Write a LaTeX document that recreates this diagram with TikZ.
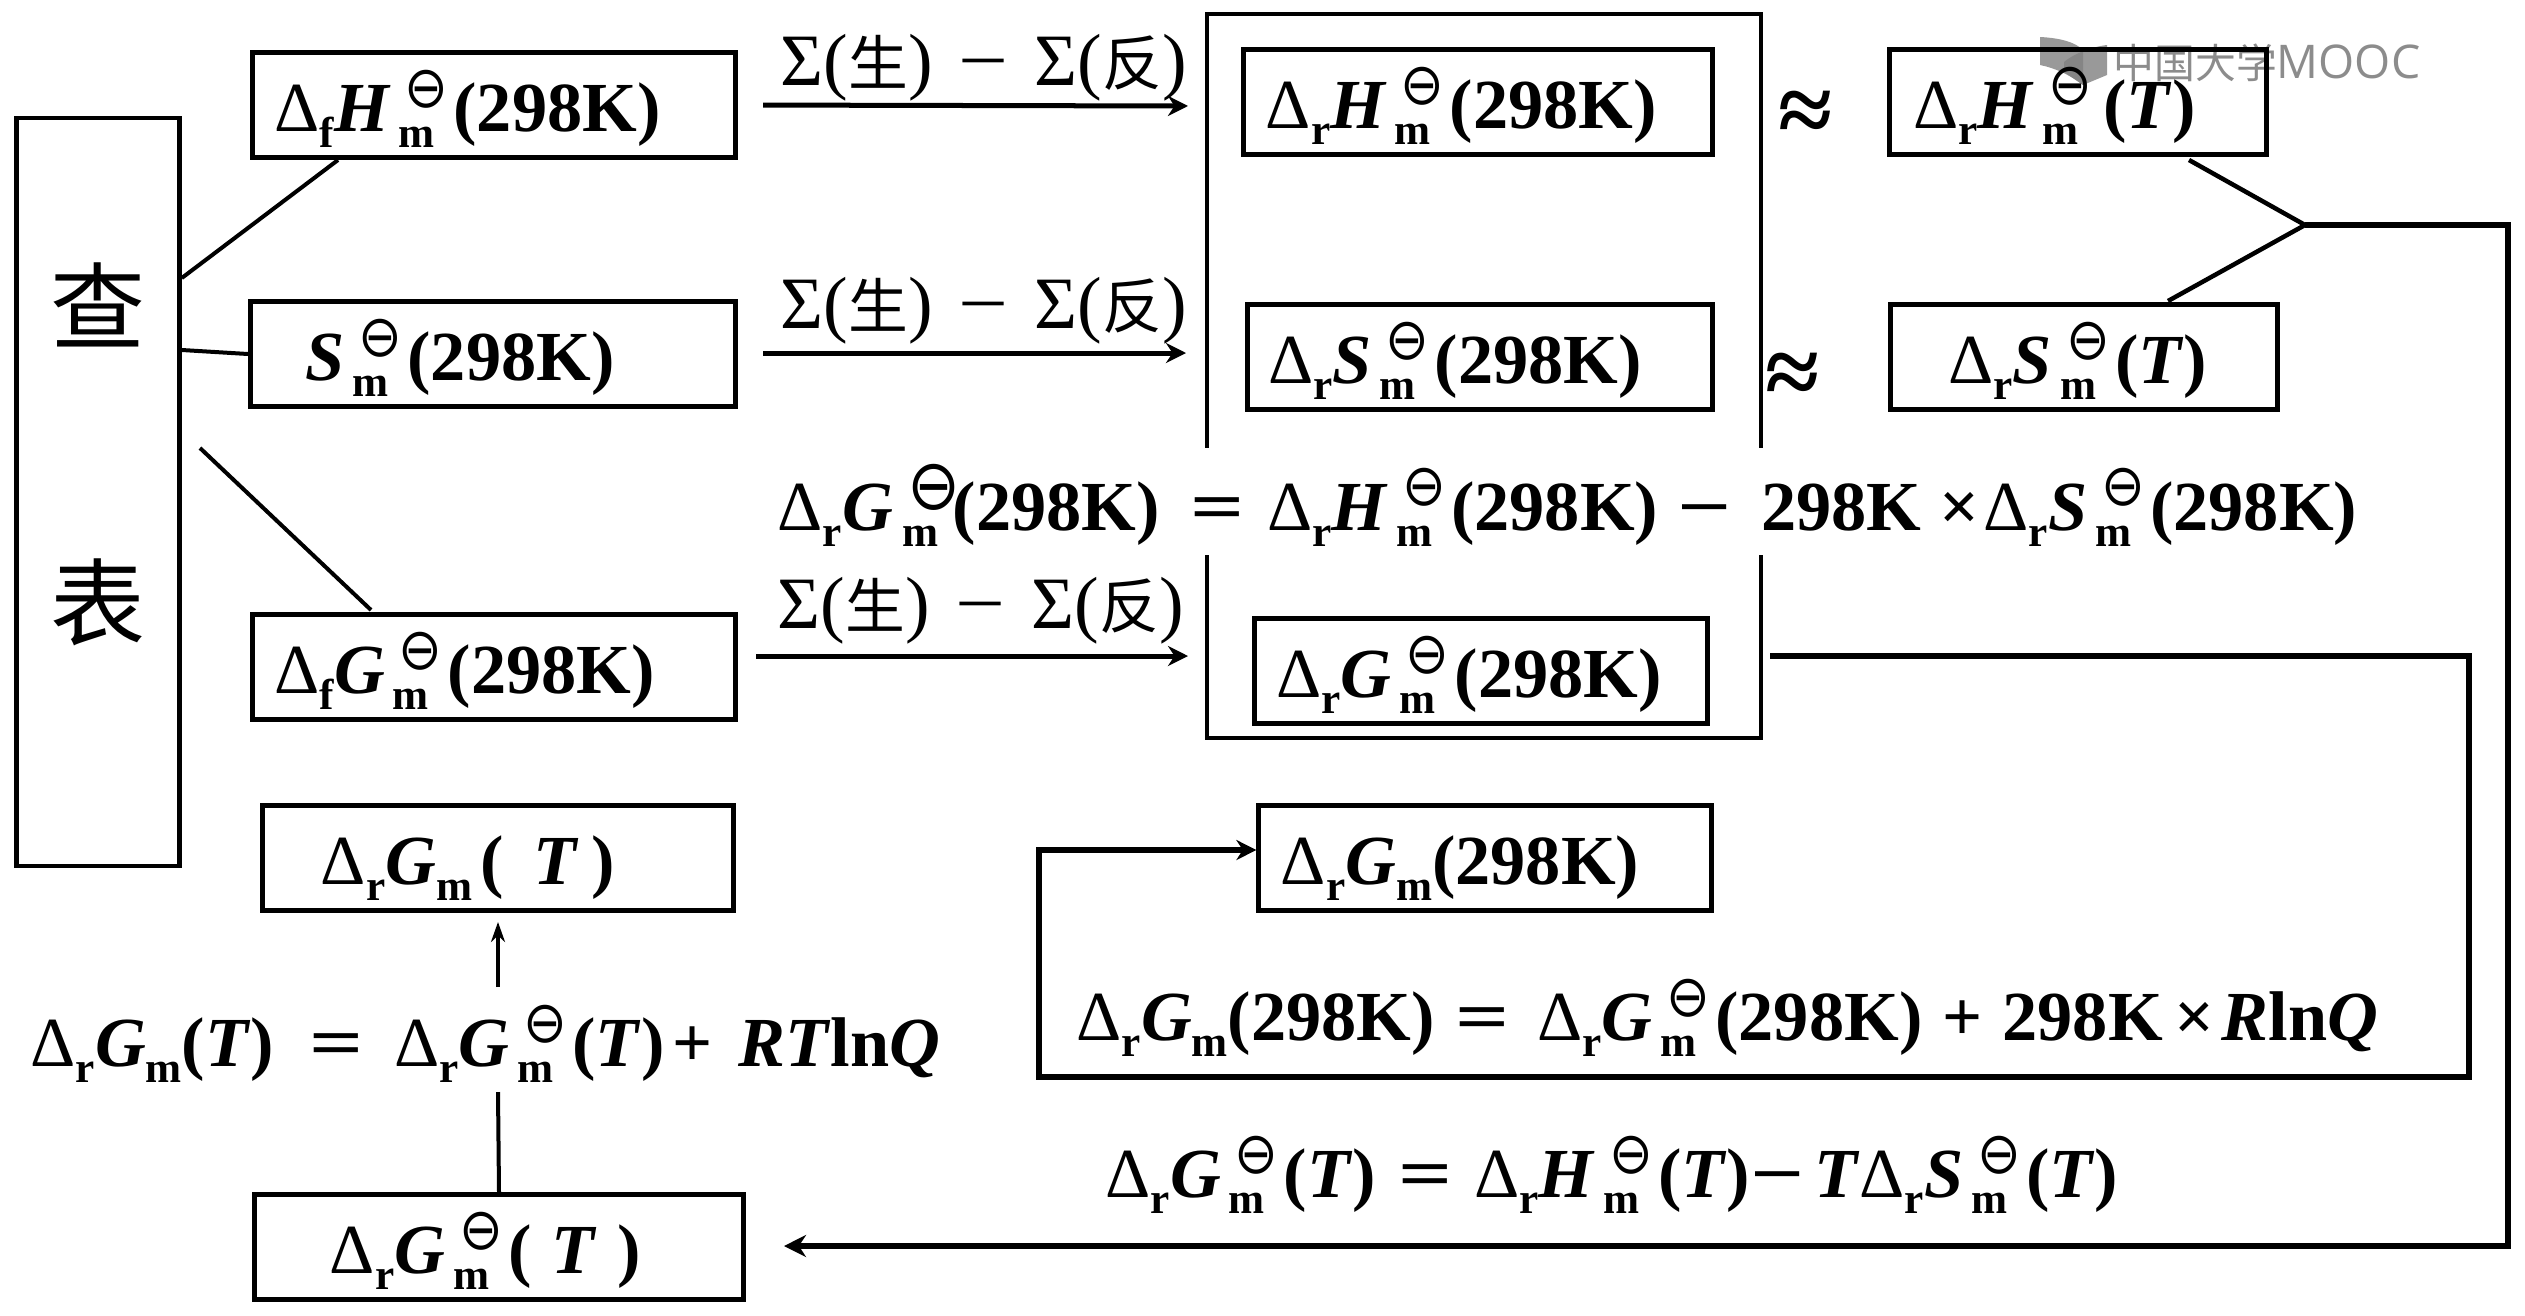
\documentclass[tikz,border=0pt]{standalone}
\usepackage{fontspec}
\usepackage{graphicx}
\setmainfont{Liberation Serif}
\newfontfamily\cjk{Noto Sans CJK SC}
\newfontfamily\wmfont{Open Sans}
\newfontfamily\symfont{DejaVu Sans}
\usetikzlibrary{arrows.meta}

% pieces of the formulas
\newcommand{\subf}{\fontsize{12.3}{14}\selectfont}
\newcommand{\dlt}[1]{{\mdseries Δ}\raisebox{-0.16cm}{\subf #1}}
\newcommand{\ostd}{\scalebox{0.9}[1]{\symfont\mdseries ⊖}}
\newcommand{\stdm}{\hspace{0.08cm}\rlap{\raisebox{-0.16cm}{\subf m}}\hspace{0.06cm}\rlap{\raisebox{0.24cm}{\fontsize{16.5}{20}\selectfont\ostd}}\hspace{0.49cm}}
\newcommand{\stdbig}{\hspace{0.1cm}\rlap{\raisebox{-0.16cm}{\subf m}}\hspace{0.05cm}\rlap{\raisebox{0.2cm}{\fontsize{20}{24}\selectfont\ostd}}\hspace{0.45cm}}
\newcommand{\subm}{\raisebox{-0.16cm}{\subf m}}
\newcommand{\eqs}{\scalebox{1.35}[1]{=}}
\newcommand{\mns}{\scalebox{1.35}[1]{−}}
\newcommand{\sumdiff}{Σ({\cjk\fontsize{17}{20}\selectfont 生})\hspace{0.26cm}\scalebox{1.2}[1]{−}\hspace{0.26cm}Σ({\cjk\fontsize{17}{20}\selectfont 反})}

\begin{document}
\begin{tikzpicture}[
    x=0.01cm, y=-0.01cm,
    frm/.style={draw, line width=0.05cm, inner xsep=0pt, inner ysep=0pt, minimum height=1.05cm,
      text height=0.68cm, text depth=0.16cm, font=\fontsize{20}{24}\selectfont\bfseries},
    eqn/.style={anchor=base west, inner sep=0pt, font=\fontsize{20}{24}\selectfont\bfseries},
    eqwhite/.style={eqn, fill=white, text height=0.82cm, text depth=0.25cm},
    sumlab/.style={anchor=base west, inner sep=0pt, font=\fontsize{21}{24}\selectfont},
    approx/.style={anchor=base west, inner sep=0pt, font=\fontsize{28}{30}\selectfont\bfseries},
    wire/.style={line width=0.05cm},
    thinwire/.style={line width=0.04cm},
    arr/.style={wire, -{Stealth[length=0.2cm,width=0.2cm]}}
]
\useasboundingbox (0,0) rectangle (2525,1315);
\fill[white] (0,0) rectangle (2525,1315);

% watermark under the boxes
\fill[black!50, opacity=0.8] (2040,37) .. controls (2060,38) and (2075,42) .. (2083,50) -- (2083,85) .. controls (2070,75) and (2055,68) .. (2040,65) -- cycle;
\fill[black!50, opacity=0.8] (2064,62) .. controls (2072,55) and (2090,47) .. (2107,45) -- (2107,75) -- (2083,85) -- (2064,72) -- cycle;
\node[anchor=base west, inner sep=0pt, text=black!45, font=\fontsize{11.6}{13}\selectfont] (wmark) at (2113,78) {{\cjk 中国大学}{\wmfont\fontsize{13.2}{16}\selectfont MOOC}};

% the big frame goes first, the long formula cuts it
\node[draw, line width=0.04cm, minimum width=5.54cm, minimum height=7.24cm] (frame) at (1484,376) {};

% lookup box
\node[draw, line width=0.045cm, minimum width=1.63cm, minimum height=7.48cm, align=center, inner sep=0pt,
  font=\cjk\fontsize{27}{32}\selectfont] (table) at (98,492) {查\\[1.84cm]表\\[-0.3cm]\mbox{}};

% left column
\node[frm, text width=4.83cm] (fH) at (494,105) {\hspace*{0.22cm}\dlt{f}\textit{H}\stdm(298K)};
\node[frm, text width=4.85cm] (fS) at (493,354) {\hspace*{0.55cm}\textit{S}\stdm(298K)};
\node[frm, text width=4.83cm] (fG) at (494,667) {\hspace*{0.22cm}\dlt{f}\textit{G}\stdm(298K)};

% inside the frame
\node[frm, text width=4.68cm] (rH) at (1478,102) {\hspace*{0.22cm}\dlt{r}\textit{H}\stdm(298K)};
\node[frm, text width=4.65cm] (rS) at (1480,357) {\hspace*{0.21cm}\dlt{r}\textit{S}\stdm(298K)};
\node[frm, text width=4.53cm] (rG) at (1481,671) {\hspace*{0.22cm}\dlt{r}\textit{G}\stdm(298K)};

% right column
\node[frm, text width=3.77cm] (rHT) at (2078,102) {\hspace*{0.24cm}\dlt{r}\textit{H}\stdm\hspace{0.06cm}(\textit{T})};
\node[frm, text width=3.87cm] (rST) at (2084,357) {\hspace*{0.58cm}\dlt{r}\textit{S}\stdm(\textit{T})};

% lower boxes
\node[frm, text width=4.52cm] (rGnow) at (1485,858) {\hspace*{0.22cm}\dlt{r}\textit{G}\subm(298K)};
\node[frm, text width=4.70cm] (rGmT) at (498,858) {\hspace*{0.58cm}\dlt{r}\textit{G}\subm\hspace{0.08cm}(\hspace{0.3cm}\textit{T}\hspace{0.13cm})};
\node[frm, text width=4.88cm] (rGT) at (499,1247) {\hspace*{0.75cm}\dlt{r}\textit{G}\stdm(\hspace{0.2cm}\textit{T}\hspace{0.21cm})};

% formulas
\node[eqwhite] (eqmid) at (777,530) {\dlt{r}\textit{G}\stdbig(298K)\hspace{0.3cm}\eqs\hspace{0.23cm}\dlt{r}\textit{H}\stdm(298K)\hspace{0.19cm}\mns\hspace{0.3cm}298K\hspace{0.18cm}×\hspace{0.04cm}\dlt{r}\textit{S}\stdm(298K)};
\node[eqn] (eqnow) at (1076,1040) {\dlt{r}\textit{G}\subm(298K)\hspace{0.2cm}\eqs\hspace{0.28cm}\dlt{r}\textit{G}\stdm(298K)\hspace{0.2cm}+\hspace{0.2cm}298K\hspace{0.12cm}×\hspace{0.07cm}\textit{R}ln\textit{Q}};
\node[eqn] (eqT) at (30,1066) {\dlt{r}\textit{G}\subm(\textit{T})\hspace{0.35cm}\eqs\hspace{0.31cm}\dlt{r}\textit{G}\stdm(\textit{T})\hspace{0.08cm}+\hspace{0.26cm}\textit{RT}ln\textit{Q}};
\node[eqn] (eqG) at (1105,1197) {\dlt{r}\textit{G}\stdm(\textit{T})\hspace{0.22cm}\eqs\hspace{0.22cm}\dlt{r}\textit{H}\stdm(\textit{T})\mns\hspace{0.1cm}\textit{T}\dlt{r}\textit{S}\stdm(\textit{T})};

% sum labels
\node[sumlab] (sumH) at (780,85) {\sumdiff};
\node[sumlab] (sumS) at (780,328) {\sumdiff};
\node[sumlab] (sumG) at (777,628) {\sumdiff};

\node[approx] (apH) at (1778,143) {≈};
\node[approx] (apS) at (1765,405) {≈};

% lines out of the lookup box
\coordinate (tabA) at (table.east |- 0,278);
\coordinate (tabB) at (table.east |- 0,350);
\coordinate (tabC) at (200,448);
\coordinate (fHin) at (338,160);
\coordinate (fGin) at (371,610);
\draw[thinwire] (tabA) -- (fHin);
\draw[thinwire] (tabB) -- (fS.west);
\draw[thinwire] (tabC) -- (fGin);

% arrows into the frame
\coordinate (inH) at (1188,106);
\coordinate (inS) at (1186,353);
\coordinate (outG) at (756,656);
\coordinate (inG) at (1188,656);
\draw[arr, shorten <=0.25cm] (fH.east) -- (inH);
\draw[arr, shorten <=0.25cm] (fS.east |- inS) -- (inS);
\draw[arr] (outG) -- (inG);

% back to the 298K box
\coordinate (rGout) at (1770,656);
\coordinate (feedA) at (2469,656);
\coordinate (feedB) at (2469,1077);
\coordinate (feedC) at (1039,1077);
\coordinate (feedD) at (1039,850);
\draw[arr, line width=0.055cm] (rGout) -- (feedA) -- (feedB) -- (feedC) -- (feedD) -- (rGnow.west |- feedD);

% the two T boxes merge and go to the bottom box
\coordinate (merge) at (2305,225);
\coordinate (rHTout) at (2189,160);
\coordinate (rSTout) at (2168,301);
\coordinate (longA) at (2508,225);
\coordinate (longB) at (2508,1246);
\coordinate (longC) at (784,1246);
\draw[thinwire, line width=0.045cm] (rHTout) -- (merge) -- (rSTout);
\draw[wire, line width=0.055cm, -{Stealth[length=0.22cm,width=0.22cm]}] (merge) -- (longA) -- (longB) -- (longC);

% up through the formula
\coordinate (upA) at (498,1092);
\coordinate (upB) at (498,987);
\coordinate (upC) at (498,922);
\draw[thinwire] (rGT.north) -- (upA);
\draw[thinwire, -{Stealth[length=0.2cm,width=0.14cm]}] (upB) -- (upC);

\end{tikzpicture}
\end{document}
